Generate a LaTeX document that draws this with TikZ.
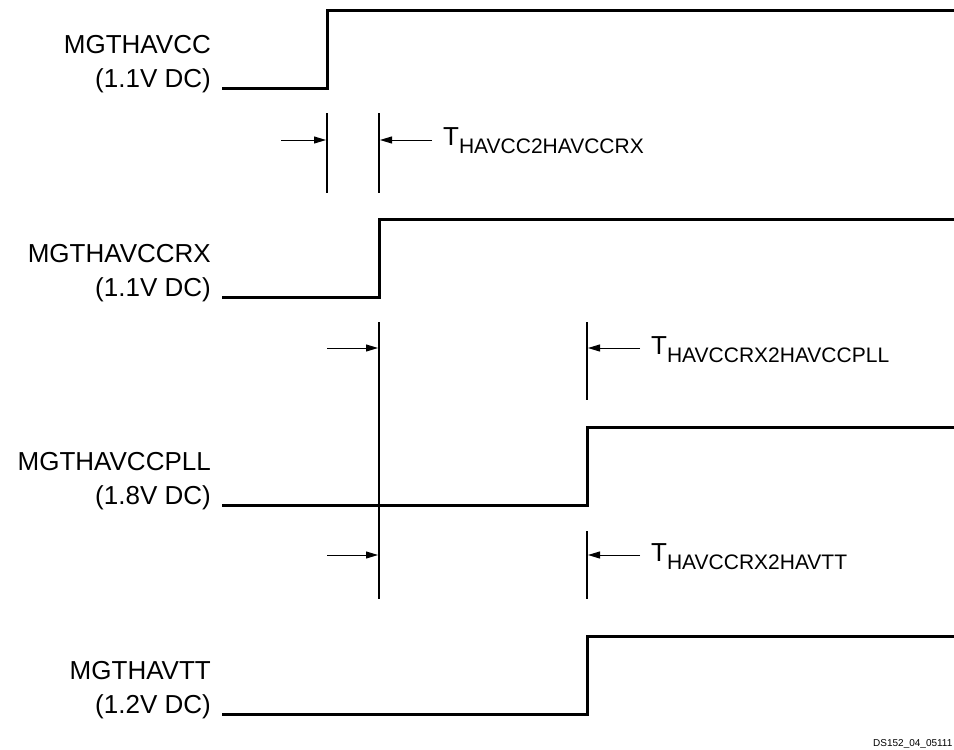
\documentclass[tikz,border=0pt]{standalone}
\usepackage{fontspec}
\setmainfont{Liberation Sans}
\usepackage{tikz}
\usetikzlibrary{arrows.meta, positioning}
\tikzstyle{supply} = [anchor=base east, inner sep=0pt, font=\fontsize{26}{30}\selectfont]
\tikzstyle{tlabel} = [anchor=base west, inner sep=0pt, font=\fontsize{26}{30}\selectfont]
\tikzstyle{wave} = [line width=3pt, line join=miter]
\tikzstyle{marker} = [line width=2pt]
\tikzstyle{arrow} = [line width=1pt, -{Triangle[length=12pt,width=7pt]}]
\newcommand{\tdelay}[1]{T\raisebox{-8pt}{\fontsize{21}{23}\selectfont #1}}

\begin{document}
\begin{tikzpicture}[x=1pt, y=-1pt]
	\useasboundingbox (0,0) rectangle (954,750);

	% supply names
	\node (havccname) [supply] at (211,53) {MGTHAVCC};
	\node (havccval) [supply] at (211,87) {(1.1V DC)};
	\node (rxname) [supply] at (211,262) {MGTHAVCCRX};
	\node (rxval) [supply] at (211,296) {(1.1V DC)};
	\node (pllname) [supply] at (211,470) {MGTHAVCCPLL};
	\node (pllval) [supply] at (211,504) {(1.8V DC)};
	\node (vttname) [supply] at (211,679) {MGTHAVTT};
	\node (vttval) [supply] at (211,713) {(1.2V DC)};

	% ramps
	\coordinate (havcclo) at (222,88);
	\coordinate (havccup) at (327,88);
	\coordinate (havcchi) at (956,10);
	\coordinate (rxlo) at (222,297);
	\coordinate (rxup) at (379,297);
	\coordinate (rxhi) at (956,219);
	\coordinate (plllo) at (222,505);
	\coordinate (pllup) at (587,505);
	\coordinate (pllhi) at (956,427);
	\coordinate (vttlo) at (222,714);
	\coordinate (vttup) at (587,714);
	\coordinate (vtthi) at (956,636);

	\draw [wave] (havcclo) -- (havccup) |- (havcchi);
	\draw [wave] (rxlo) -- (rxup) |- (rxhi);
	\draw [wave] (plllo) -- (pllup) |- (pllhi);
	\draw [wave] (vttlo) -- (vttup) |- (vtthi);

	% timing markers
	\coordinate (m1a) at (327,113);
	\coordinate (m1b) at (327,193);
	\coordinate (m2a) at (379,113);
	\coordinate (m2b) at (379,193);
	\coordinate (m3a) at (379,322);
	\coordinate (m3b) at (379,599);
	\coordinate (m4a) at (587,322);
	\coordinate (m4b) at (587,400);
	\coordinate (m5a) at (587,531);
	\coordinate (m5b) at (587,599);
	\foreach \a/\b in {m1a/m1b, m2a/m2b, m3a/m3b, m4a/m4b, m5a/m5b}
		\draw [marker] (\a) -- (\b);

	\coordinate (a1s) at (281,140);
	\coordinate (a1e) at (326,140);
	\coordinate (a2s) at (432,140);
	\coordinate (a2e) at (380,140);
	\coordinate (a3s) at (327,348);
	\coordinate (a3e) at (378,348);
	\coordinate (a4s) at (640,348);
	\coordinate (a4e) at (588,348);
	\coordinate (a5s) at (327,555);
	\coordinate (a5e) at (378,555);
	\coordinate (a6s) at (640,555);
	\coordinate (a6e) at (588,555);
	\foreach \s/\e in {a1s/a1e, a2s/a2e, a3s/a3e, a4s/a4e, a5s/a5e, a6s/a6e}
		\draw [arrow] (\s) -- (\e);

	\node (t1) [tlabel] at (443,145) {\tdelay{HAVCC2HAVCCRX}};
	\node (t2) [tlabel] at (651,354) {\tdelay{HAVCCRX2HAVCCPLL}};
	\node (t3) [tlabel] at (651,561) {\tdelay{HAVCCRX2HAVTT}};

	\node (figid) [anchor=base west, inner sep=0pt, font=\fontsize{10}{12}\selectfont] at (873,746) {DS152\_04\_05111};
\end{tikzpicture}
\end{document}
